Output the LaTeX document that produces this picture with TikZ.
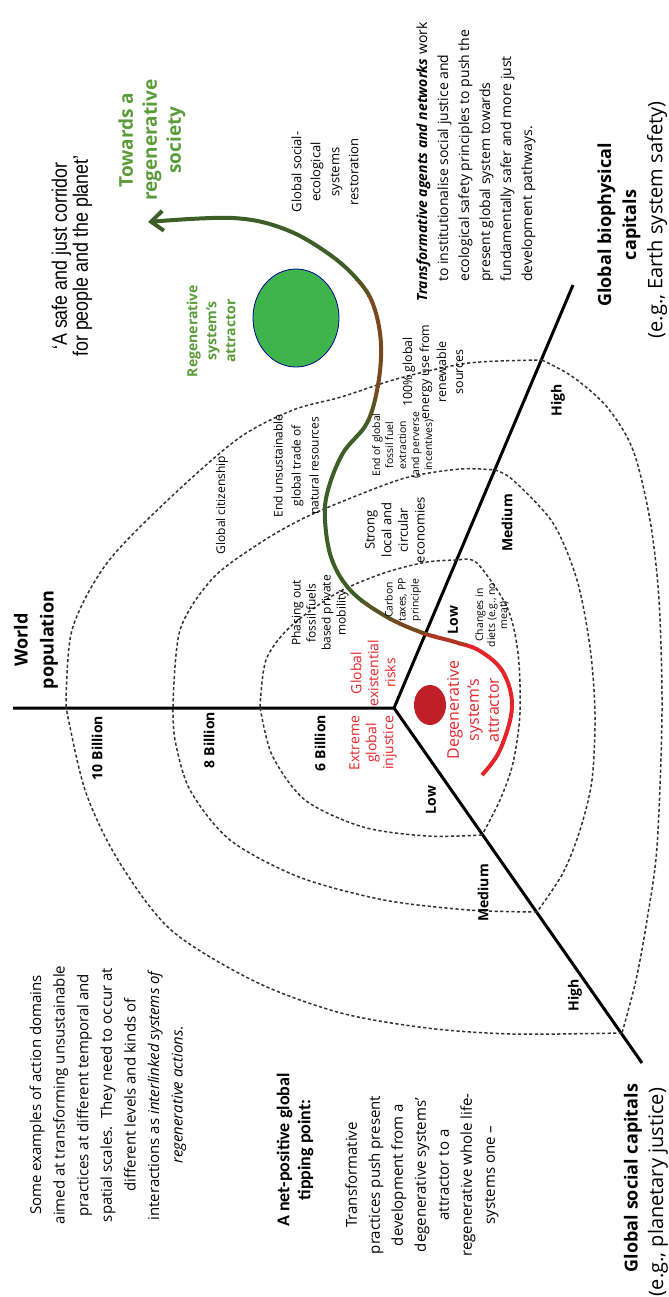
\documentclass[tikz,border=0pt]{standalone}
\usepackage{fontspec}
\setmainfont{Open Sans}
\newfontfamily\quotefont[FakeStretch=0.85]{Liberation Sans}
\newfontfamily\tipfont{Carlito}
\usetikzlibrary{arrows.meta}

\definecolor{pathgreen}{RGB}{62,94,40}
\definecolor{pathbrown}{RGB}{122,72,30}
\definecolor{pathred}{RGB}{228,36,40}
\definecolor{labelgreen}{RGB}{90,155,58}
\definecolor{attrgreen}{RGB}{61,181,74}
\definecolor{attrred}{RGB}{192,30,40}
\definecolor{dashgray}{RGB}{50,50,50}

\tikzset{
  axis/.style={line width=1.5pt},
  level/.style={dashgray, line width=0.75pt, dash pattern=on 1.6pt off 1.2pt},
  txt/.style={rotate=90, align=center, inner sep=0pt},
  axlabel/.style={txt, font=\bfseries\fontsize{7}{8}\selectfont},
  note/.style={txt, font=\fontsize{6}{8}\selectfont},
  redtxt/.style={txt, text=pathred, font=\fontsize{7}{8.5}\selectfont},
}

\begin{document}
\begin{tikzpicture}[x=0.5pt, y=-0.5pt]
\useasboundingbox (0,0) rectangle (669,1297);
% axes
\coordinate (O) at (394,708);
\coordinate (pop) at (13,708);
\coordinate (bio) at (573,285);
\coordinate (soc) at (642,1063);
\draw[axis] (pop) -- (O) -- (bio);
\draw[axis] (O) -- (soc);
% levels: low, medium, high
\draw[level] plot[smooth] coordinates {(260,707) (266,660) (290,627) (337,593) (384,573) (427,562) (459,560)};
\draw[level] plot[smooth] coordinates {(459,560) (477,563) (507,607) (518,653) (520,713) (513,763) (500,800) (482,835)};
\draw[level] plot[smooth] coordinates {(482,835) (427,836) (363,827) (305,800) (272,755) (260,707)};
\draw[level] plot[smooth] coordinates {(173,707) (180,630) (213,578) (260,543) (300,520) (341,502) (405,478) (460,469) (495,470)};
\draw[level] plot[smooth] coordinates {(495,470) (513,480) (553,523) (577,580) (590,647) (595,713) (592,780) (580,830) (563,873) (537,912)};
\draw[level] plot[smooth] coordinates {(537,912) (469,910) (384,900) (299,877) (230,840) (190,790) (175,740) (173,707)};
\draw[level] plot[smooth] coordinates {(66,707) (72,630) (107,563) (171,497) (239,438) (293,410) (341,397) (400,378) (469,363) (542,360)};
\draw[level] plot[smooth] coordinates {(542,360) (573,377) (607,407) (633,450) (650,520) (659,600) (662,713) (657,847) (647,920) (636,980) (622,1033)};
\draw[level] plot[smooth] coordinates {(622,1033) (512,1034) (427,1028) (341,1013) (256,982) (171,930) (118,860) (85,790) (66,707)};
% attractors
\draw[blue!60!black, fill=attrgreen, line width=0.4pt] (296,318) ellipse [x radius=43, y radius=49];
\fill[attrred] (430,705) ellipse [x radius=16, y radius=20];
% pathway, coloured band by band
\foreach \ya/\yb/\col in {0/280/pathgreen, 280/296/pathbrown!50!pathgreen, 296/398/pathbrown, 398/420/pathbrown!50!pathgreen, 420/602/pathgreen, 602/620/pathgreen!50!pathbrown, 620/634/pathbrown, 634/645/pathbrown!50!pathred, 645/1297/pathred}{
  \begin{scope}
    \clip (0,\ya) rectangle (669,\yb);
    \draw[line width=2pt, \col, -{Straight Barb[length=6pt,width=10pt]}] plot[smooth, tension=0.6] coordinates {(482,775) (500,750) (512,707) (503,672) (480,651) (455,642) (423,633) (387,617) (352,592) (332,560) (325,520) (328,490) (343,453) (367,423) (378,385) (381,345) (375,310) (362,285) (333,257) (287,230) (233,218) (148,222)};
  \end{scope}
}
% titles
\node[txt, font=\quotefont\fontsize{10.5}{10.5}\selectfont] (corridor) at (72,256) {‘A safe and just corridor\\for people and the planet’};
\node[txt, text=labelgreen, font=\bfseries\fontsize{9.5}{12}\selectfont] (towards) at (152,140) {Towards a\\regenerative\\society};
\node[txt, text=labelgreen, font=\bfseries\fontsize{7}{9.5}\selectfont] (regen) at (211,331) {Regenerative\\system’s\\attractor};
\node[txt, font=\fontsize{6.5}{9.5}\selectfont] (restore) at (325,172) {Global social-\\ecological\\systems\\restoration};
\node[txt, align=left, anchor=west, font=\fontsize{7}{10.5}\selectfont] (agents) at (476,282) {\hspace*{-10pt}\textbf{\textit{Transformative agents and networks}} work\\to institutionalise social justice and\\ecological safety principles to push the\\present global system towards\\fundamentally safer and more just\\development pathways.};
\node[txt, font=\bfseries\fontsize{9}{12.5}\selectfont] (biocap) at (619,225) {Global biophysical\\capitals};
\node[txt, font=\fontsize{10}{12}\selectfont] (bioeg) at (657,220) {(e.g., Earth system safety)};
\node[txt, font=\bfseries\fontsize{9}{13}\selectfont] (popname) at (36,640) {World\\population};
\node[txt, font=\bfseries\fontsize{9}{12}\selectfont] (soccap) at (633,1178) {Global social capitals};
\node[txt, font=\fontsize{10}{12}\selectfont] (soceg) at (658,1192) {(e.g., planetary justice)};
% axis labels
\node[axlabel] (b10) at (97,748) {10 Billion};
\node[axlabel] (b8) at (209,740) {8 Billion};
\node[axlabel] (b6) at (320,743) {6 Billion};
\node[axlabel] (biolow) at (453,620) {Low};
\node[axlabel] (biomed) at (507,523) {Medium};
\node[axlabel] (biohigh) at (558,400) {High};
\node[axlabel] (soclow) at (431,800) {Low};
\node[axlabel] (socmed) at (483,893) {Medium};
\node[axlabel] (sochigh) at (575,995) {High};
% degenerative side
\node[redtxt] (risks) at (373,673) {Global\\existential\\risks};
\node[redtxt] (injustice) at (373,743) {Extreme\\global\\injustice};
\node[redtxt, font=\fontsize{8}{10}\selectfont] (degen) at (473,710) {Degenerative\\system’s\\attractor};
% action domains
\node[note] (citizen) at (222,505) {Global citizenship};
\node[note, font=\fontsize{6}{9}\selectfont] (trade) at (296,466) {End unsustainable\\global trade of\\natural resources};
\node[note, font=\fontsize{6}{7.5}\selectfont] (mobility) at (320,613) {Phasing out\\fossil fuels\\based private\\mobility};
\node[note, font=\fontsize{5.2}{6.5}\selectfont] (carbon) at (403,600) {Carbon\\taxes, PP\\principle};
\node[note, font=\fontsize{6.5}{8.3}\selectfont] (local) at (395,530) {Strong\\local and\\circular\\economies};
\node[note, font=\fontsize{5.2}{6.5}\selectfont] (fossil) at (403,445) {End of global\\fossil fuel\\extraction\\(and perverse\\incentives)};
\node[note, font=\fontsize{6.2}{8.5}\selectfont] (energy) at (433,372) {100\% global\\energy use from\\renewable\\sources};
\node[note, font=\fontsize{5.2}{6}\selectfont] (diets) at (492,615) {Changes in\\diets (e.g., no\\meat)};
% explanations
\node[txt, font=\fontsize{7.5}{11.8}\selectfont] (examples) at (108,1095) {Some examples of action domains\\aimed at transforming unsustainable\\practices at different temporal and\\spatial scales.\ \ They need to occur at\\different levels and kinds of\\interactions as \textit{interlinked systems of}\\\textit{regenerative actions}.};
\node[txt, font=\tipfont\bfseries\fontsize{9}{10.5}\selectfont] (tipping) at (295,1150) {A net-positive global\\tipping point:};
\node[txt, font=\fontsize{7.5}{11.5}\selectfont] (practices) at (422,1175) {Transformative\\practices push present\\development from a\\degenerative systems’\\attractor to a\\regenerative whole life-\\systems one –};
\end{tikzpicture}
\end{document}
